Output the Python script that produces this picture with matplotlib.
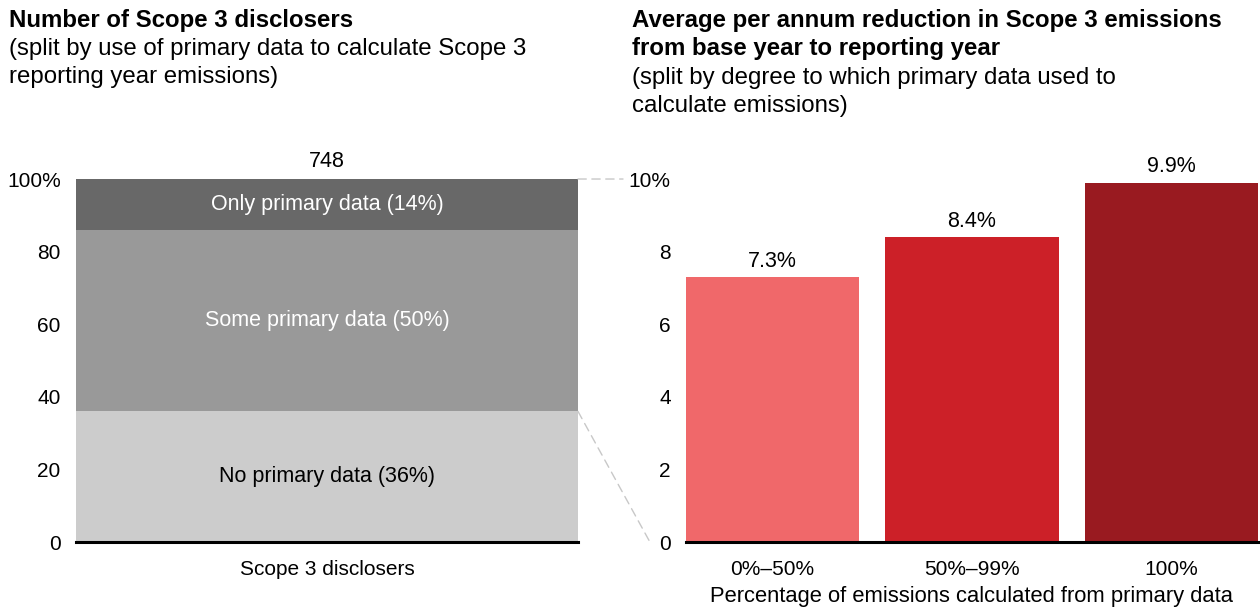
import matplotlib
matplotlib.use("Agg")
import matplotlib.pyplot as plt
from matplotlib.patches import ConnectionPatch
import numpy as np

plt.rcParams['font.family'] = ['Liberation Sans', 'DejaVu Sans']

# left chart: share of disclosers by primary-data use
total_disclosers = 748
seg_labels = ['No primary data (36%)', 'Some primary data (50%)', 'Only primary data (14%)']
seg_values = [36, 50, 14]
seg_colors = ['#cccccc', '#999999', '#686868']
seg_text_colors = ['black', 'white', 'white']

# right chart: average annual reduction
groups = ['0%\u201350%', '50%\u201399%', '100%']
reduction = [7.3, 8.4, 9.9]
bar_colors = ['#f0686a', '#cc2028', '#991a20']

FS = 15.5

fig = plt.figure(figsize=(12.6, 6.11), dpi=100)
ax1 = fig.add_axes([0.0603, 0.1129, 0.3984, 0.5941])
ax2 = fig.add_axes([0.5444, 0.1129, 0.4540, 0.5941])

# stacked bar
bottom = 0
for lab, v, c, tc in zip(seg_labels, seg_values, seg_colors, seg_text_colors):
    ax1.bar(0, v, width=1.0, bottom=bottom, color=c)
    ax1.text(0, bottom + v / 2, lab, ha='center', va='center', fontsize=FS, color=tc)
    bottom += v
ax1.text(0, bottom + 1.8, str(total_disclosers), ha='center', va='bottom', fontsize=FS)
ax1.set_xlim(-0.5, 0.5)
ax1.set_ylim(0, 100)
ax1.set_yticks([0, 20, 40, 60, 80, 100])
ax1.set_yticklabels(['0', '20', '40', '60', '80', '100%'])
ax1.set_xticks([0])
ax1.set_xticklabels(['Scope 3 disclosers'])

# red bars
x = np.arange(len(groups))
ax2.bar(x, reduction, width=0.87, color=bar_colors)
for xi, v in zip(x, reduction):
    ax2.text(xi, v + 0.15, f'{v}%', ha='center', va='bottom', fontsize=FS)
ax2.set_xlim(-0.435, 2.435)
ax2.set_ylim(0, 10)
ax2.set_yticks([0, 2, 4, 6, 8, 10])
ax2.set_yticklabels(['0', '2', '4', '6', '8', '10%'])
ax2.set_xticks(x)
ax2.set_xticklabels(groups)
ax2.set_xlabel('Percentage of emissions calculated from primary data', fontsize=15.8, labelpad=5)

for ax in (ax1, ax2):
    for s in ['top', 'right', 'left']:
        ax.spines[s].set_visible(False)
    ax.spines['bottom'].set_linewidth(2.2)
    ax.spines['bottom'].set_zorder(5)
    ax.tick_params(axis='both', length=0, labelsize=15)
    ax.tick_params(axis='y', pad=11)
    ax.tick_params(axis='x', pad=13)

# dashed connectors
con1 = ConnectionPatch(xyA=(0.5, 100), coordsA=ax1.transData,
                       xyB=(-0.11, 1.0), coordsB=ax2.transAxes,
                       color='#c8c8c8', lw=1, linestyle=(0, (6, 4)))
con2 = ConnectionPatch(xyA=(0.5, 36), coordsA=ax1.transData,
                       xyB=(-0.063, 0.0), coordsB=ax2.transAxes,
                       color='#c8c8c8', lw=1, linestyle=(0, (6, 4)))
fig.add_artist(con1)
fig.add_artist(con2)

# titles, one line at a time (baselines in pixels from top)
H = 611.0
left_lines = [('Number of Scope 3 disclosers', 'bold', 27),
              ('(split by use of primary data to calculate Scope 3', 'normal', 55),
              ('reporting year emissions)', 'normal', 83)]
right_lines = [('Average per annum reduction in Scope 3 emissions', 'bold', 27),
               ('from base year to reporting year', 'bold', 55),
               ('(split by degree to which primary data used to', 'normal', 84),
               ('calculate emissions)', 'normal', 112)]
for txt, w, yb in left_lines:
    fig.text(9 / 1260, 1 - yb / H, txt, fontsize=17.3, fontweight=w, va='baseline')
for txt, w, yb in right_lines:
    fig.text(632 / 1260, 1 - yb / H, txt, fontsize=17.3, fontweight=w, va='baseline')

fig.savefig('out.png', dpi=100)
